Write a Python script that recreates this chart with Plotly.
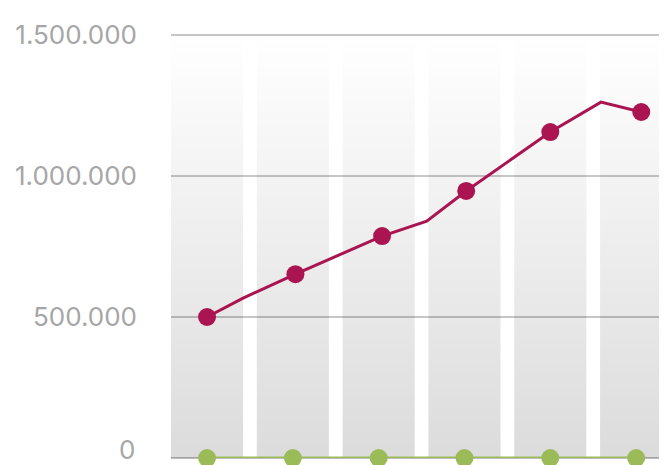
import plotly.graph_objects as go

# ---- data ----
columns = [0, 1, 2, 3, 4, 5]            # background column bands
band_top = [1500000] * 6                # band heights

red_x = [0.0, 0.42, 1.03, 2.04, 2.56, 3.02, 4.0, 4.59, 5.06]
red_y = [500000, 567000, 652000, 787000, 840000, 947000, 1156000, 1262000, 1227000]
red_marked = [True, False, True, True, False, True, True, False, True]

green_x = [0, 1, 2, 3, 4, 5]
green_y = [0, 0, 0, 0, 0, 0]

tick_vals = [0, 500000, 1000000, 1500000]
tick_labels = ["0", "500.000", "1.000.000", "1.500.000"]

RED = "#aa1450"
GREEN = "#9bbb59"
LABEL = "#a6a6a6"
FONT = "Inter"

fig = go.Figure()

# gradient column bands (one polygon per band)
half = 0.42
bx, by = [], []
for c, h in zip(columns, band_top):
    bx += [c - half, c + half, c + half, c - half, c - half, None]
    by += [0, 0, h, h, 0, None]
fig.add_trace(go.Scatter(
    x=bx, y=by, mode="lines", fill="toself",
    line=dict(width=0, color="rgba(0,0,0,0)"),
    fillgradient=dict(type="vertical",
                      colorscale=[[0, "rgba(0,0,0,0.14)"], [1, "rgba(0,0,0,0.0)"]]),
    hoverinfo="skip", showlegend=False))

# red series
fig.add_trace(go.Scatter(
    x=red_x, y=red_y, mode="lines+markers",
    line=dict(color=RED, width=3),
    marker=dict(color=RED, opacity=1, size=[18 if m else 0 for m in red_marked],
                line=dict(width=0)),
    cliponaxis=False, showlegend=False, hoverinfo="skip"))

# green series
fig.add_trace(go.Scatter(
    x=green_x, y=green_y, mode="lines+markers",
    line=dict(color=GREEN, width=3),
    marker=dict(color=GREEN, opacity=1, size=18, line=dict(width=0)),
    cliponaxis=False, showlegend=False, hoverinfo="skip"))

# page body has an 8px default margin, so offsets are compensated here
fig.update_layout(
    width=659, height=457,
    margin=dict(l=163, r=0, t=26, b=7),
    paper_bgcolor="white", plot_bgcolor="white",
    xaxis=dict(range=[-0.42, 5.36], showgrid=False, zeroline=False,
               showticklabels=False, showline=False, fixedrange=True),
    yaxis=dict(range=[0, 1503600], tickvals=tick_vals,
               ticktext=[""] + tick_labels[1:],
               showgrid=True, gridcolor="#c6c6c6", gridwidth=2,
               zeroline=True, zerolinecolor="#bdbdbd", zerolinewidth=2,
               showline=False, ticks="", ticklabelstandoff=33,
               tickfont=dict(family=FONT, size=26, color=LABEL),
               fixedrange=True),
    annotations=[dict(text=tick_labels[0], x=0, xref="paper", xanchor="right",
                      xshift=-34, y=tick_vals[0], yref="y", yanchor="middle",
                      yshift=9, showarrow=False,
                      font=dict(family=FONT, size=26, color=LABEL))],
)

fig.write_html("out.html")
